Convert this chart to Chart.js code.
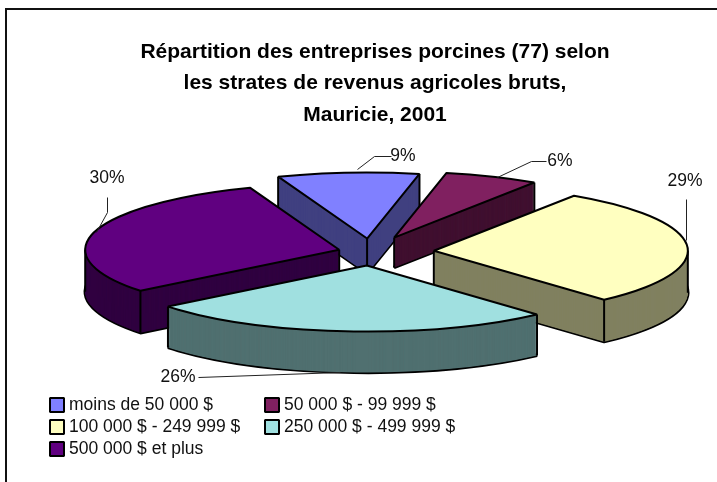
<!DOCTYPE html>
<html><head><meta charset="utf-8">
<style>html,body{margin:0;padding:0;background:#fff}canvas{display:block}</style>
<script src="https://cdn.jsdelivr.net/npm/chart.js@4"></script>
</head><body>
<canvas id="c" width="717" height="482"></canvas>
<script>
const categories = ['moins de 50 000 $','50 000 $ - 99 999 $','100 000 $ - 249 999 $','250 000 $ - 499 999 $','500 000 $ et plus'];
const shares = [9, 6, 29, 26, 30];
const titleLines = ['Répartition des entreprises porcines (77) selon','les strates de revenus agricoles bruts,','Mauricie, 2001'];
const topColors = ['#8080FF','#802060','#FFFFC0','#A0E0E0','#600080'];
const wallColors = ['#404080','#401030','#808060','#507070','#300040'];
const FONT = '"Liberation Sans", Arial, sans-serif';

// 3D look
const CX = 371, CY = 252, SQUASH = 0.26, RADIUS = 254;
const explode = [52, 60, 63, 52, 33];
const depth = [35, 30, 42, 41, 42];
const paintOrder = [0, 1, 4, 2, 3];
// label text centre + leader polyline
const labelPlace = [
  {x:403,y:156,line:[[357,169],[374,156],[391,156]]},
  {x:560,y:161,line:[[497,177],[531,161],[546,161]]},
  {x:685,y:181,line:[[686,199],[686,240]]},
  {x:178,y:377,line:[[198,377],[340,372]]},
  {x:107,y:178,line:[[107,197],[107,212],[96,232]]}
];
const legendPlace = [[50,405],[265,405],[50,427],[265,427],[50,449]];

function setOpts(arc, color){
  arc.options = {backgroundColor:color,borderColor:color,borderWidth:0,borderAlign:'center',
    borderJoinStyle:'round',borderRadius:0,borderDash:[],borderDashOffset:0,offset:0,spacing:0,circular:true,selfJoin:false};
}
function place(ctx, arc, i, dy){
  const mid = (arc.startAngle + arc.endAngle) / 2;
  ctx.translate(CX + Math.cos(mid)*explode[i], CY + dy + Math.sin(mid)*explode[i]*SQUASH);
  ctx.scale(1, SQUASH);
  ctx.translate(-arc.x, -arc.y);
}
function outline(ctx, arc, i, dy, width){
  ctx.save();
  ctx.beginPath();
  place(ctx, arc, i, dy);
  ctx.moveTo(arc.x, arc.y);
  ctx.arc(arc.x, arc.y, arc.outerRadius, arc.startAngle, arc.endAngle);
  ctx.closePath();
  ctx.restore();
  ctx.strokeStyle = '#000'; ctx.lineWidth = width; ctx.lineJoin = 'bevel';
  ctx.stroke();
}
function project(arc, i, a, r){
  const mid = (arc.startAngle + arc.endAngle) / 2;
  return [CX + Math.cos(mid)*explode[i] + Math.cos(a)*r,
          CY + Math.sin(mid)*explode[i]*SQUASH + Math.sin(a)*r*SQUASH];
}
const pie3d = {
  id:'pie3d',
  beforeDatasetsDraw(chart){
    const ctx = chart.ctx;
    const arcs = chart.getDatasetMeta(0).data;
    paintOrder.forEach(i => {
      const arc = arcs[i], keep = arc.options, d = depth[i];
      // bottom rim: the wall layers cover its inner half
      outline(ctx, arc, i, d, 3.2);
      setOpts(arc, wallColors[i]);
      for (let dy = d; dy >= 0; dy -= 0.5) {
        ctx.save(); place(ctx, arc, i, dy); arc.draw(ctx); ctx.restore();
      }
      // vertical edges
      const verts = [[arc.startAngle,arc.outerRadius],[arc.endAngle,arc.outerRadius],[arc.startAngle,0]];
      const twoPi = Math.PI*2;
      [0, Math.PI].forEach(e => {
        let a = e; while (a < arc.startAngle) a += twoPi;
        if (a < arc.endAngle) verts.push([a, arc.outerRadius]);
      });
      ctx.strokeStyle = '#000'; ctx.lineWidth = 2;
      verts.forEach(([a,r]) => {
        const [x,y] = project(arc, i, a, r);
        ctx.beginPath(); ctx.moveTo(x,y); ctx.lineTo(x,y+d); ctx.stroke();
      });
      setOpts(arc, topColors[i]);
      ctx.save(); place(ctx, arc, i, 0); arc.draw(ctx); ctx.restore();
      outline(ctx, arc, i, 0, 2);
      arc.options = keep;
    });
    return false;
  },
  beforeDraw(chart){
    const ctx = chart.ctx;
    ctx.save();
    ctx.strokeStyle = '#111'; ctx.lineWidth = 2;
    ctx.strokeRect(6, 9, 760, 520);
    ctx.restore();
  },
  afterDraw(chart){
    const ctx = chart.ctx;
    ctx.save();
    ctx.font = '17.5px ' + FONT; ctx.fillStyle = '#111';
    ctx.textAlign = 'center'; ctx.textBaseline = 'middle';
    shares.forEach((v,i) => {
      const p = labelPlace[i];
      ctx.fillText(v + '%', p.x, p.y);
      ctx.beginPath(); ctx.strokeStyle = '#222'; ctx.lineWidth = 1;
      p.line.forEach(([x,y],k) => k ? ctx.lineTo(x+.5,y+.5) : ctx.moveTo(x+.5,y+.5));
      ctx.stroke();
    });
    ctx.textAlign = 'left';
    categories.forEach((t,i) => {
      const [x,y] = legendPlace[i];
      ctx.fillStyle = topColors[i]; ctx.fillRect(x,y-7,14,14);
      ctx.strokeStyle = '#000'; ctx.lineWidth = 2; ctx.strokeRect(x,y-7,14,14);
      ctx.fillStyle = '#111'; ctx.fillText(t, x+19, y);
    });
    ctx.restore();
  }
};
new Chart(document.getElementById('c'), {
  type:'pie',
  data:{labels:categories,datasets:[{data:shares,backgroundColor:topColors,borderWidth:0,radius:RADIUS,rotation:-20.5}]},
  options:{
    responsive:false,animation:false,
    layout:{padding:{left:33}},
    plugins:{
      legend:{display:false},tooltip:{enabled:false},
      title:{display:true,text:titleLines,color:'#000',
        font:{family:FONT,size:21,weight:'bold',lineHeight:1.5},padding:{top:36,bottom:0}}
    }
  },
  plugins:[pie3d]
});
</script>
</body></html>
